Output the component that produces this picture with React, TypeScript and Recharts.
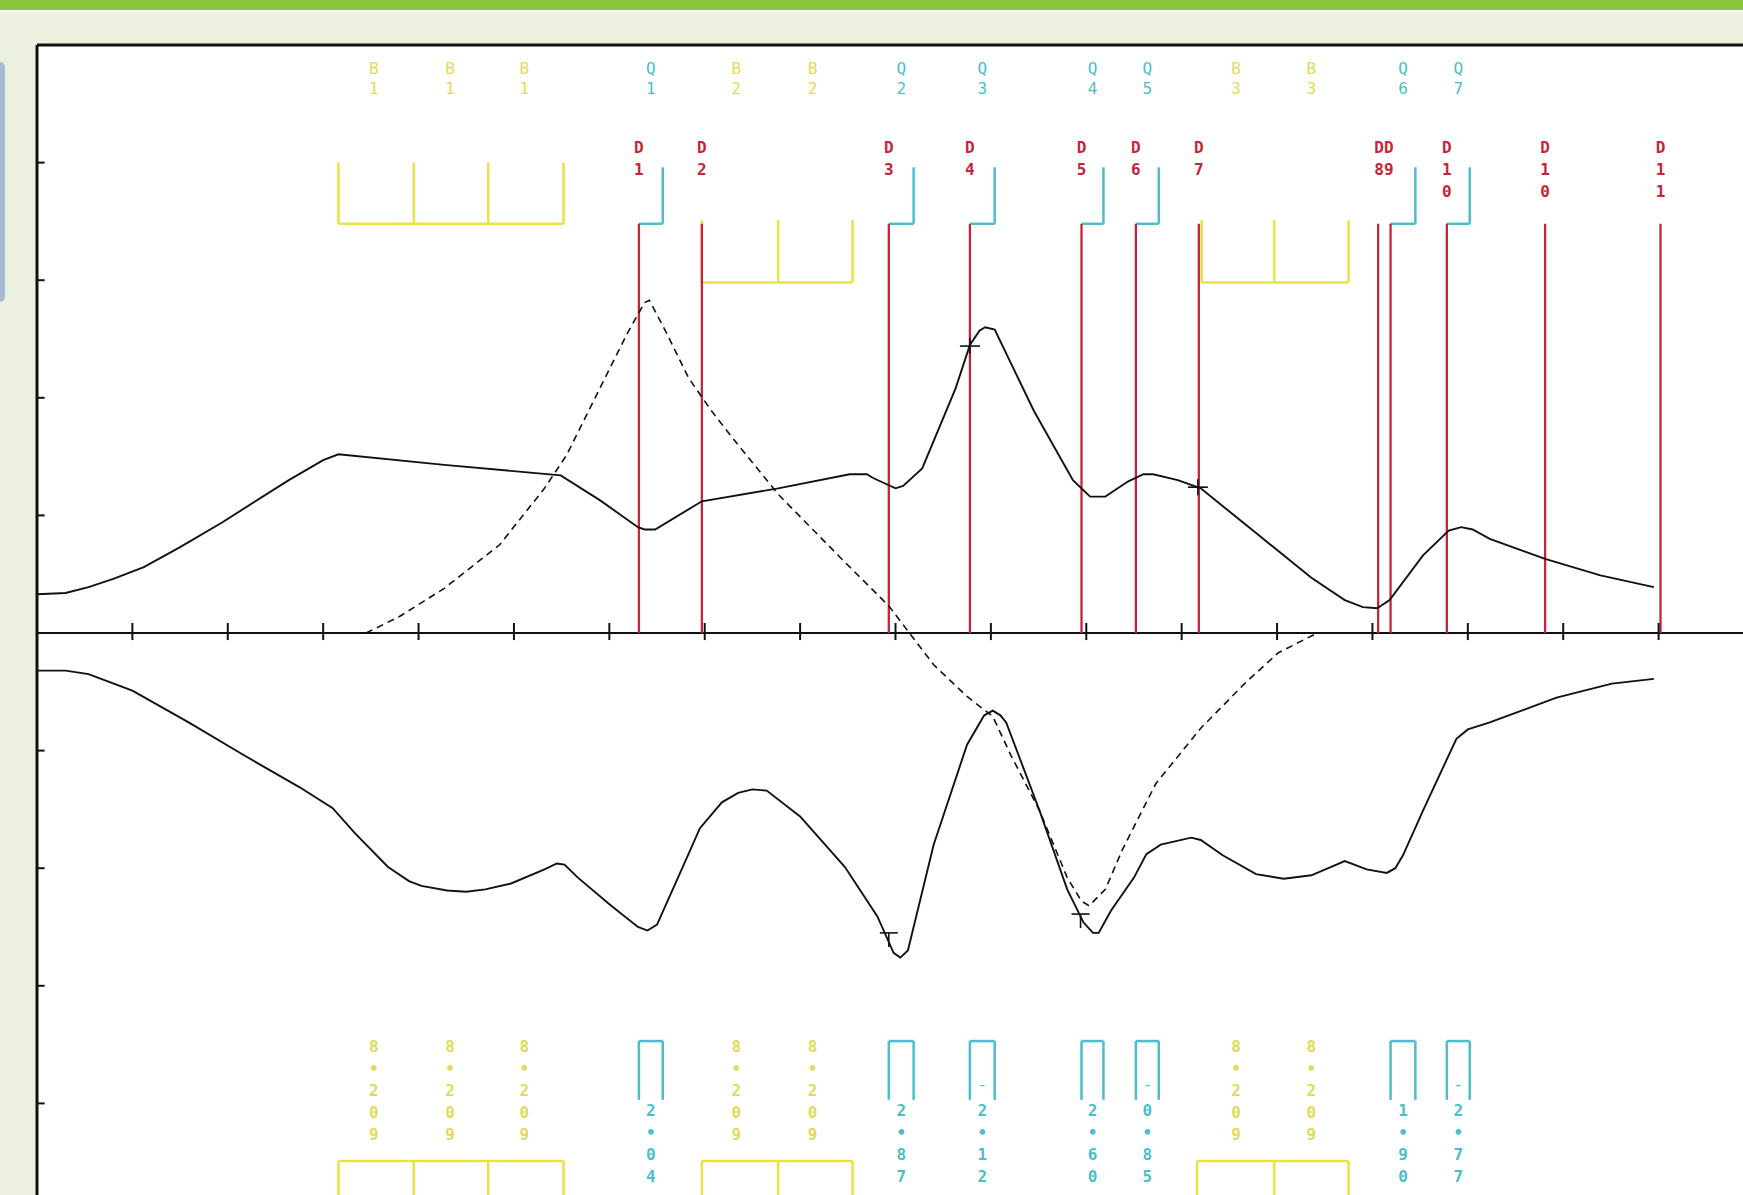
import React from "react";
import { ComposedChart, Line, XAxis, YAxis, ReferenceLine, Scatter } from "recharts";

// ---- curves (x in axis units, y in axis units) ----
const upperSolid: number[][] = [
  [0.0, 0.33], [0.3, 0.34], [0.54, 0.39], [0.8, 0.46], [1.12, 0.56], [1.5, 0.73], [1.94, 0.94], [2.64, 1.3], [3.0, 1.47], [3.16, 1.52],
  [4.27, 1.43], [5.49, 1.34], [5.9, 1.13], [6.3, 0.9], [6.37, 0.88], [6.48, 0.88], [6.97, 1.12],
  [7.77, 1.23], [8.52, 1.35], [8.7, 1.35], [8.76, 1.32], [9.0, 1.23], [9.08, 1.25], [9.28, 1.4], [9.63, 2.08],
  [9.78, 2.45], [9.88, 2.57], [9.94, 2.6], [10.04, 2.58], [10.45, 1.89], [10.86, 1.3], [11.04, 1.16],
  [11.2, 1.16], [11.44, 1.29], [11.6, 1.35], [11.7, 1.35], [11.96, 1.3], [12.2, 1.23], [12.78, 0.85],
  [13.36, 0.47], [13.71, 0.28], [13.9, 0.22], [14.05, 0.21], [14.18, 0.28], [14.53, 0.66], [14.8, 0.87],
  [14.93, 0.9], [15.05, 0.88], [15.23, 0.8], [15.81, 0.63], [16.39, 0.49], [16.95, 0.39],
];
const lowerSolid: number[][] = [
  [0.01, -0.32], [0.3, -0.32], [0.54, -0.35], [1.0, -0.49], [1.59, -0.76], [2.17, -1.04], [2.75, -1.31],
  [3.1, -1.49], [3.33, -1.7], [3.68, -1.99], [3.9, -2.11], [4.03, -2.15], [4.3, -2.19], [4.5, -2.2], [4.7, -2.18], [4.97, -2.13],
  [5.32, -2.01], [5.45, -1.96], [5.53, -1.97], [5.67, -2.08], [6.02, -2.32], [6.3, -2.5], [6.4, -2.53], [6.5, -2.48],
  [6.72, -2.08], [6.95, -1.66], [7.18, -1.44], [7.35, -1.36], [7.5, -1.33], [7.65, -1.34], [8.0, -1.56],
  [8.47, -1.99], [8.81, -2.41], [8.98, -2.72], [9.05, -2.76], [9.13, -2.7], [9.4, -1.8], [9.75, -0.95],
  [9.93, -0.7], [10.02, -0.66], [10.1, -0.7], [10.16, -0.76], [10.51, -1.51], [10.8, -2.18], [10.97, -2.46], [11.07, -2.55],
  [11.13, -2.55], [11.26, -2.36], [11.5, -2.08], [11.63, -1.88], [11.78, -1.8], [12.1, -1.74], [12.2, -1.76], [12.43, -1.89], [12.78, -2.05],
  [13.07, -2.09], [13.36, -2.06], [13.71, -1.94], [13.94, -2.01], [14.15, -2.04], [14.24, -2.0], [14.32, -1.89],
  [14.53, -1.51], [14.88, -0.9], [15.0, -0.82], [15.23, -0.76], [15.93, -0.55], [16.51, -0.43], [16.95, -0.39],
];
const dashedCurve: number[][] = [
  [3.45, 0.0], [3.8, 0.14], [4.27, 0.38], [4.85, 0.75], [5.32, 1.23], [5.55, 1.51],
  [5.9, 2.08], [6.19, 2.55], [6.37, 2.81], [6.42, 2.83], [6.6, 2.55], [6.83, 2.17],
  [7.07, 1.89], [7.3, 1.65], [7.77, 1.18], [8.46, 0.61], [8.93, 0.23],
  [9.4, -0.27], [9.75, -0.54], [10.02, -0.71], [10.21, -1.04], [10.51, -1.51], [10.8, -2.08],
  [10.95, -2.28], [11.03, -2.32], [11.2, -2.18], [11.38, -1.84], [11.73, -1.28], [12.2, -0.81], [12.66, -0.43],
  [13.01, -0.17], [13.42, 0.0],
];

// ---- D markers (red) ----
const dLines = [6.31, 6.97, 8.93, 9.78, 10.95, 11.52, 12.18, 14.06, 14.19, 14.78, 15.81, 17.02];
const dLineTop = 3.48;
const dLabelX = [6.31, 6.97, 8.93, 9.78, 10.95, 11.52, 12.18, 14.12, 14.78, 15.81, 17.02];
const dLabels = ["D\n1", "D\n2", "D\n3", "D\n4", "D\n5", "D\n6", "D\n7", "DD\n89", "D\n1\n0", "D\n1\n0", "D\n1\n1"];
const dLabelY = 4.13;

// ---- Q markers (cyan) ----
const qLeft = [6.31, 8.93, 9.78, 10.95, 11.52, 14.19, 14.78];
const qRight = [6.56, 9.19, 10.04, 11.18, 11.76, 14.45, 15.02];
const qLabels = ["Q\n1", "Q\n2", "Q\n3", "Q\n4", "Q\n5", "Q\n6", "Q\n7"];
const qValues = ["2.04", "2.87", "-2.12", "2.60", "-0.85", "1.90", "-2.77"];
const qLabelY = 4.8;
const qBracketTop = 3.96;
const qBracketBase = 3.48;
const qCapTop = -3.47;
const qCapBottom = -3.97;
const qValueY = -4.06;

// ---- B markers (yellow) ----
const bX = [3.53, 4.33, 5.11, 7.33, 8.13, 12.57, 13.36];
const bLabels = ["B\n1", "B\n1", "B\n1", "B\n2", "B\n2", "B\n3", "B\n3"];
const bValues = ["8.209", "8.209", "8.209", "8.209", "8.209", "8.209", "8.209"];
const bLabelY = 4.8;
const bValueY = -3.52;

const combTeethTop = [[3.16, 3.95, 4.73, 5.52], [6.97, 7.77, 8.55], [12.21, 12.97, 13.75]];
const combTopY = [[4.0, 3.48], [3.51, 2.98], [3.51, 2.98]];
const combTeethBottom = [[3.16, 3.95, 4.73, 5.52], [6.97, 7.77, 8.55], [12.16, 12.97, 13.75]];
const combBottomY = [[-4.49, -5], [-4.49, -5], [-4.49, -5]];

const crossMarks = [[9.78, 2.44], [12.17, 1.24]];
const teeMarks = [[8.93, -2.55], [10.94, -2.39]];

const xTicks = [1, 2, 3, 4, 5, 6, 7, 8, 9, 10, 11, 12, 13, 14, 15, 16, 17];
const yTicks = [-4, -3, -2, -1, 1, 2, 3, 4];

// ---- styling ----
const RED = "#C6243A";
const CYAN = "#4CBECB";
const YELLOW = "#E9E245";
const YELLOW_TEXT = "#E2DA5A";
const INK = "#111111";
const MONO = "'DejaVu Sans Mono', 'Liberation Mono', monospace";
const X_DOMAIN: [number, number] = [0, 18];
const Y_DOMAIN: [number, number] = [-5, 5];

const pts = (a: number[][]) => a.map(([x, y]) => ({ x, y }));

type Seg = { x1: number; y1: number; x2: number; y2: number; color: string; w: number };

function buildSegments(): Seg[] {
  const s: Seg[] = [];
  combTeethTop.forEach((teeth, i) => {
    const [top, base] = combTopY[i];
    s.push({ x1: teeth[0], y1: base, x2: teeth[teeth.length - 1], y2: base, color: YELLOW, w: 2.5 });
    teeth.forEach((t) => s.push({ x1: t, y1: top, x2: t, y2: base, color: YELLOW, w: 2.5 }));
  });
  combTeethBottom.forEach((teeth, i) => {
    const [base, end] = combBottomY[i];
    s.push({ x1: teeth[0], y1: base, x2: teeth[teeth.length - 1], y2: base, color: YELLOW, w: 2.5 });
    teeth.forEach((t) => s.push({ x1: t, y1: base, x2: t, y2: end, color: YELLOW, w: 2.5 }));
  });
  qLeft.forEach((l, i) => {
    const r = qRight[i];
    s.push({ x1: r, y1: qBracketTop, x2: r, y2: qBracketBase, color: CYAN, w: 2.5 });
    s.push({ x1: l, y1: qBracketBase, x2: r, y2: qBracketBase, color: CYAN, w: 2.5 });
    s.push({ x1: l, y1: qCapTop, x2: r, y2: qCapTop, color: CYAN, w: 2.5 });
    s.push({ x1: l, y1: qCapTop, x2: l, y2: qCapBottom, color: CYAN, w: 2.5 });
    s.push({ x1: r, y1: qCapTop, x2: r, y2: qCapBottom, color: CYAN, w: 2.5 });
  });
  dLines.forEach((x) => s.push({ x1: x, y1: 0, x2: x, y2: dLineTop, color: RED, w: 2.3 }));
  xTicks.forEach((x) => s.push({ x1: x, y1: -0.06, x2: x, y2: 0.085, color: INK, w: 2 }));
  yTicks.forEach((y) => s.push({ x1: X_DOMAIN[0], y1: y, x2: 0.08, y2: y, color: INK, w: 2 }));
  return s;
}

const makeStack = (color: string, size: number, pitch: number, weight: string) => (props: any) => {
  const { cx, cy, payload } = props;
  if (cx == null || cy == null) return <g />;
  const lines: string[] = payload.label.split("\n");
  return (
    <g>
      {lines.map((t, i) => (
        <text key={i} x={cx} y={cy + i * pitch} fill={color} fontSize={size} fontFamily={MONO} fontWeight={weight}
          textAnchor="middle" dominantBaseline="central">{t}</text>
      ))}
    </g>
  );
};

const makeVertical = (color: string, size: number, pitch: number) => (props: any) => {
  const { cx, cy, payload } = props;
  if (cx == null || cy == null) return <g />;
  const v: string = payload.label;
  const neg = v.startsWith("-");
  const chars = (neg ? v.slice(1) : v).split("");
  return (
    <g>
      {neg && (
        <text x={cx} y={cy - 26} fill={color} fontSize={size} fontFamily={MONO}
          textAnchor="middle" dominantBaseline="central">-</text>
      )}
      {chars.map((c, i) => (
        <text key={i} x={cx} y={cy + i * pitch} fill={color} fontSize={size} fontFamily={MONO} fontWeight="bold"
          textAnchor="middle" dominantBaseline="central">{c === "." ? "•" : c}</text>
      ))}
    </g>
  );
};

const crossShape = (props: any) => {
  const { cx, cy } = props;
  if (cx == null) return <g />;
  return (
    <g stroke={INK} strokeWidth={1.6}>
      <line x1={cx - 10} y1={cy} x2={cx + 10} y2={cy} />
      <line x1={cx} y1={cy - 8} x2={cx} y2={cy + 8} />
    </g>
  );
};
const teeShape = (props: any) => {
  const { cx, cy } = props;
  if (cx == null) return <g />;
  return (
    <g stroke={INK} strokeWidth={1.6}>
      <line x1={cx - 9} y1={cy} x2={cx + 9} y2={cy} />
      <line x1={cx} y1={cy} x2={cx} y2={cy + 14} />
    </g>
  );
};

export default function App() {
  const segs = buildSegments();
  const dLabelData = dLabelX.map((x, i) => ({ x, y: dLabelY, label: dLabels[i] }));
  const qLabelData = qLeft.map((l, i) => ({ x: (l + qRight[i]) / 2, y: qLabelY, label: qLabels[i] }));
  const qValueData = qLeft.map((l, i) => ({ x: (l + qRight[i]) / 2, y: qValueY, label: qValues[i] }));
  const bLabelData = bX.map((x, i) => ({ x, y: bLabelY, label: bLabels[i] }));
  const bValueData = bX.map((x, i) => ({ x, y: bValueY, label: bValues[i] }));

  return (
    <div style={{ position: "absolute", left: 0, top: 0, width: 1743, height: 1195, overflow: "hidden", background: "#EBF1DE" }}>
      <div style={{ position: "absolute", left: 0, top: 0, width: 1743, height: 10, background: "#8CC540" }} />
      <div style={{ position: "absolute", left: 0, top: 10, width: 1743, height: 2, background: "#F6F9EF" }} />
      <div style={{ position: "absolute", left: -8, top: 62, width: 13, height: 240, borderRadius: 5, background: "#A6BAD6" }} />
      <div style={{ position: "absolute", left: 37, top: 45, width: 1720, height: 1200, background: "#FFFFFF" }} />
      <div style={{ position: "absolute", left: 0, top: 0 }}>
        <ComposedChart width={1754} height={1221} margin={{ top: 45, right: 0, bottom: 0, left: 0 }}>
          <XAxis type="number" dataKey="x" domain={X_DOMAIN} hide allowDataOverflow />
          <YAxis type="number" dataKey="y" domain={Y_DOMAIN} width={37} tick={false} tickLine={false}
            axisLine={{ stroke: INK, strokeWidth: 3 }} allowDataOverflow />
          <ReferenceLine y={5} stroke={INK} strokeWidth={3} ifOverflow="visible" />
          <ReferenceLine y={0} stroke={INK} strokeWidth={2} />
          {segs.map((s, i) => (
            <ReferenceLine key={"s" + i} segment={[{ x: s.x1, y: s.y1 }, { x: s.x2, y: s.y2 }]}
              stroke={s.color} strokeWidth={s.w} ifOverflow="visible" />
          ))}
          <Line data={pts(dashedCurve)} dataKey="y" type="linear" stroke={INK} strokeWidth={1.6}
            strokeDasharray="7 5" dot={false} isAnimationActive={false} />
          <Line data={pts(upperSolid)} dataKey="y" type="linear" stroke={INK} strokeWidth={1.9}
            dot={false} isAnimationActive={false} />
          <Line data={pts(lowerSolid)} dataKey="y" type="linear" stroke={INK} strokeWidth={1.9}
            dot={false} isAnimationActive={false} />
          <Scatter data={pts(crossMarks)} shape={crossShape} isAnimationActive={false} />
          <Scatter data={pts(teeMarks)} shape={teeShape} isAnimationActive={false} />
          <Scatter data={dLabelData} shape={makeStack(RED, 16, 22, "bold")} isAnimationActive={false} />
          <Scatter data={qLabelData} shape={makeStack(CYAN, 16, 20, "normal")} isAnimationActive={false} />
          <Scatter data={bLabelData} shape={makeStack(YELLOW_TEXT, 16, 20, "normal")} isAnimationActive={false} />
          <Scatter data={qValueData} shape={makeVertical(CYAN, 16, 22)} isAnimationActive={false} />
          <Scatter data={bValueData} shape={makeVertical(YELLOW_TEXT, 16, 22)} isAnimationActive={false} />
        </ComposedChart>
      </div>
    </div>
  );
}
